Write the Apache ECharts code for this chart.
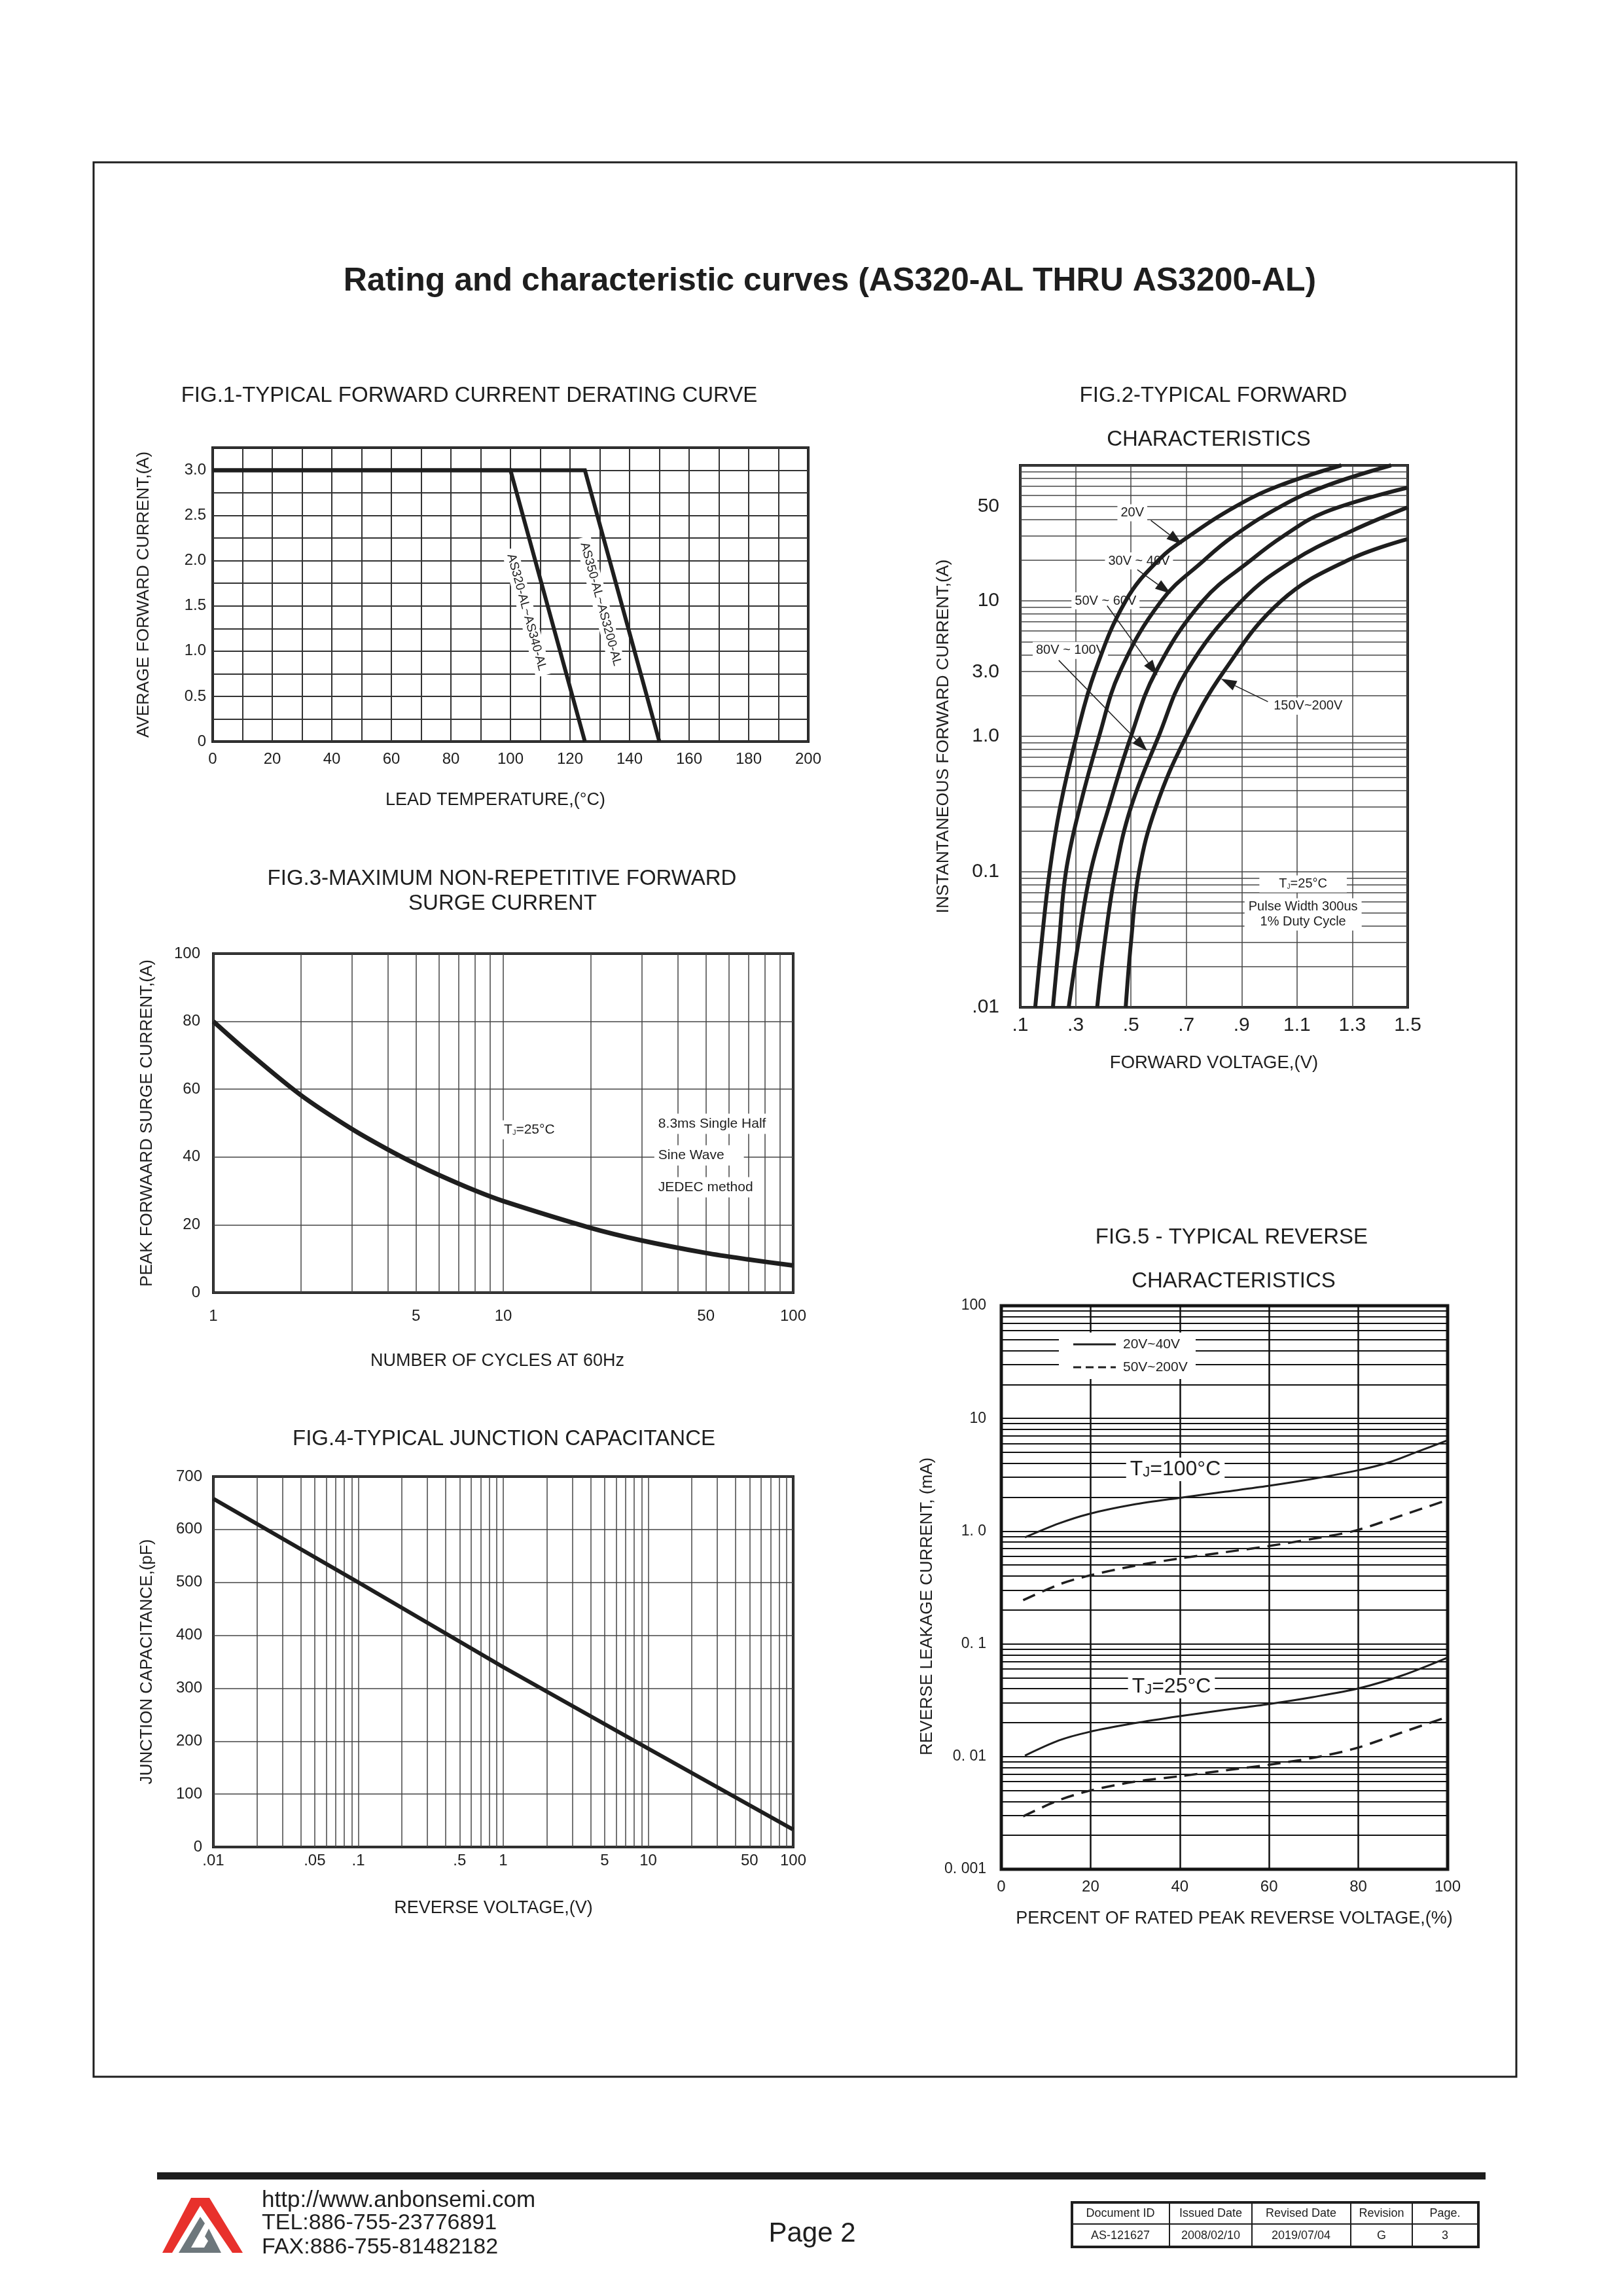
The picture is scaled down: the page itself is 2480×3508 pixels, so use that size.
<!DOCTYPE html>
<html>
<head>
<meta charset="utf-8">
<title>Rating and characteristic curves (AS320-AL THRU AS3200-AL)</title>
<script src="https://cdn.jsdelivr.net/npm/echarts@6.0.0/dist/echarts.min.js"></script>
<style>
html,body{margin:0;padding:0;background:#ffffff;}
#chart{width:2480px;height:3508px;}
</style>
</head>
<body>
<div id="chart"></div>
<script>
// ================= DATA =================
// FIG.1 - derating (lead temperature °C -> average forward current A)
const fig1TempLow  = [0, 100, 125];      // AS320-AL~AS340-AL
const fig1AmpLow   = [3.0, 3.0, 0];
const fig1TempHigh = [0, 125, 150];      // AS350-AL~AS3200-AL
const fig1AmpHigh  = [3.0, 3.0, 0];

// FIG.2 - forward characteristics (V -> A)
const fig2XLabels = [0.1, 0.3, 0.5, 0.7, 0.9, 1.1, 1.3, 1.5];
const fig2YLabels = [0.01, 0.1, 1, 3, 10, 50];
const fig2V_20V  = [0.154, 0.177, 0.206, 0.244, 0.303, 0.37, 0.481, 0.60, 0.71, 0.88, 1.03, 1.26];
const fig2I_20V  = [0.01, 0.03, 0.1, 0.3, 1, 3, 10, 20, 30, 50, 70, 100];
const fig2V_30V  = [0.218, 0.24, 0.265, 0.315, 0.385, 0.46, 0.61, 0.765, 0.87, 1.043, 1.20, 1.44];
const fig2I_30V  = [0.01, 0.03, 0.1, 0.3, 1, 3, 10, 20, 30, 50, 70, 100];
const fig2V_50V  = [0.275, 0.31, 0.354, 0.42, 0.50, 0.59, 0.76, 0.934, 1.05, 1.20, 1.5];
const fig2I_50V  = [0.01, 0.03, 0.1, 0.3, 1, 3, 10, 20, 30, 45, 68.5];
const fig2V_80V  = [0.378, 0.405, 0.444, 0.50, 0.60, 0.70, 0.90, 1.09, 1.30, 1.5];
const fig2I_80V  = [0.01, 0.03, 0.1, 0.3, 1, 3, 10, 20, 33, 49];
const fig2V_150V = [0.481, 0.50, 0.529, 0.59, 0.70, 0.835, 1.043, 1.285, 1.5];
const fig2I_150V = [0.01, 0.03, 0.1, 0.3, 1, 3, 10, 20, 28.6];

// FIG.3 - surge current (cycles -> A)
const fig3XLabels = [1, 5, 10, 50, 100];
const fig3Cycles = [1, 1.32, 2, 3, 4, 5, 6, 8, 10, 20, 30, 50, 70, 100];
const fig3Amps   = [80, 70.9, 58.3, 48.3, 42.2, 37.9, 34.7, 30.1, 27.0, 19.1, 15.4, 11.7, 9.8, 8.0];

// FIG.4 - junction capacitance (V -> pF)
const fig4XLabels = [0.01, 0.05, 0.1, 0.5, 1, 5, 10, 50, 100];
const fig4Volts = [0.01, 0.1, 1, 10, 100];
const fig4Cap   = [658, 500, 340, 186, 33];

// FIG.5 - reverse leakage (% of rated voltage -> mA)
const fig5YLabels = [0.001, 0.01, 0.1, 1, 10, 100];
const fig5Pct_100Solid = [5.3, 12.9, 19.6, 29.6, 39.8, 50.3, 59.8, 69.8, 80.1, 86.9, 93.2, 100];
const fig5mA_100Solid  = [0.88, 1.17, 1.42, 1.72, 1.97, 2.24, 2.52, 2.91, 3.48, 4.08, 5.06, 6.4];
const fig5Pct_100Dash  = [4.9, 12.9, 19.3, 29.6, 39.8, 50.3, 59.8, 69.8, 79.3, 90, 100];
const fig5mA_100Dash   = [0.244, 0.336, 0.40, 0.49, 0.571, 0.652, 0.737, 0.855, 1.01, 1.39, 1.89];
const fig5Pct_25Solid  = [5.3, 12.9, 19.6, 29.6, 39.8, 50.3, 59.8, 69.8, 80.1, 90, 100];
const fig5mA_25Solid   = [0.0102, 0.0139, 0.0165, 0.0197, 0.0228, 0.026, 0.0292, 0.0337, 0.0403, 0.0527, 0.0755];
const fig5Pct_25Dash   = [4.9, 12.9, 20, 29.6, 39.8, 50.3, 59.8, 69.8, 79.3, 90, 100];
const fig5mA_25Dash    = [0.00295, 0.0041, 0.0050, 0.00596, 0.00668, 0.00755, 0.00844, 0.00973, 0.0118, 0.0165, 0.0225];

// ================= HELPERS =================
const FONT = "'Liberation Sans', Arial, Helvetica, sans-serif";
const INK = '#1e1e1e';
const zip = (xs, ys) => xs.map((x, i) => [x, ys[i]]);
const clean = v => +Number(v).toPrecision(6);
function logGrid(e0, e1) {
  const out = [];
  for (let e = e0; e < e1; e++) for (let k = 1; k <= 9; k++) out.push(clean(k * Math.pow(10, e)));
  out.push(clean(Math.pow(10, e1)));
  return out;
}
const stripZero = v => String(clean(v)).replace(/^0\./, '.');
function lab(size, margin, extra) { return Object.assign({fontSize: size, fontFamily: FONT, color: INK, margin: margin}, extra || {}); }
function nst(size, pad) { return {fontSize: size, fontFamily: FONT, color: INK, padding: pad || 0}; }
function split(color, width) { return {show: true, lineStyle: {color: color, width: width}}; }
function gridBox(left, top, width, height, bw) {
  return {left: left, top: top, width: width, height: height, show: true, borderColor: INK, borderWidth: bw,
          backgroundColor: 'transparent', containLabel: false, outerBoundsMode: 'none'};
}
function curve(gi, data, width, extra) {
  return Object.assign({type: 'line', xAxisIndex: gi, yAxisIndex: gi, data: data, symbol: 'none',
    silent: true, z: 3, lineStyle: {color: INK, width: width, join: 'miter'}}, extra || {});
}

const fig2YMap = {0.01: '.01', 0.1: '0.1', 1: '1.0', 3: '3.0', 10: '10', 50: '50'};
const fig5YMap = {0.001: '0. 001', 0.01: '0. 01', 0.1: '0. 1', 1: '1. 0', 10: '10', 100: '100'};

// ================= OPTION =================
const option = {
  animation: false,
  backgroundColor: '#ffffff',
  textStyle: {fontFamily: FONT},
  grid: [
    gridBox(325, 684, 910, 449, 4),
    gridBox(1559, 711, 592, 828, 4),
    gridBox(326, 1457, 886, 518, 4),
    gridBox(326, 2256, 886, 566, 4),
    gridBox(1530, 1995, 682, 861, 5)
  ],
  xAxis: [
    {gridIndex: 0, type: 'value', min: 0, max: 200, interval: 10,
     axisLine: {show: false}, axisTick: {show: false},
     axisLabel: lab(24, 15, {formatter: v => (Math.round(v) % 20 === 0 ? String(Math.round(v)) : '')}),
     splitLine: split('#333', 2),
     name: 'LEAD TEMPERATURE,(°C)', nameLocation: 'middle', nameGap: 76, nameTextStyle: nst(27, [0, 46, 0, 0])},
    {gridIndex: 1, type: 'value', min: 0.1, max: 1.5,
     axisLine: {show: false}, axisTick: {show: false, customValues: fig2XLabels},
     axisLabel: lab(30, 13, {customValues: fig2XLabels, formatter: v => stripZero(v)}),
     splitLine: split('#444', 1.5),
     name: 'FORWARD VOLTAGE,(V)', nameLocation: 'middle', nameGap: 71, nameTextStyle: nst(27.5)},
    {gridIndex: 2, type: 'log', logBase: 10, min: 1, max: 100,
     axisLine: {show: false}, axisTick: {show: false, customValues: logGrid(0, 2)},
     axisLabel: lab(24, 24, {customValues: fig3XLabels, formatter: v => String(clean(v))}),
     splitLine: split('#444', 1.5),
     name: 'NUMBER OF CYCLES AT 60Hz', nameLocation: 'middle', nameGap: 91, nameTextStyle: nst(27, [0, 18, 0, 0])},
    {gridIndex: 3, type: 'log', logBase: 10, min: 0.01, max: 100,
     axisLine: {show: false}, axisTick: {show: false, customValues: logGrid(-2, 2)},
     axisLabel: lab(24, 9, {customValues: fig4XLabels, formatter: v => stripZero(v)}),
     splitLine: split('#444', 1.5),
     name: 'REVERSE VOLTAGE,(V)', nameLocation: 'middle', nameGap: 80, nameTextStyle: nst(27, [0, 30, 0, 0])},
    {gridIndex: 4, type: 'value', min: 0, max: 100, interval: 20,
     axisLine: {show: false}, axisTick: {show: false},
     axisLabel: lab(24, 15),
     splitLine: split('#111', 2.5),
     name: 'PERCENT OF RATED PEAK REVERSE VOLTAGE,(%)', nameLocation: 'middle', nameGap: 62, nameTextStyle: nst(27, [0, 0, 0, 30])}
  ],
  yAxis: [
    {gridIndex: 0, type: 'value', min: 0, max: 3.25, interval: 0.25,
     axisLine: {show: false}, axisTick: {show: false},
     axisLabel: lab(24, 10, {formatter: v => {
        const r = Math.round(v * 100) / 100;
        if (r === 0) return '0';
        if (Math.abs(r * 2 - Math.round(r * 2)) < 1e-6 && r <= 3) return r.toFixed(1);
        return '';
     }}),
     splitLine: split('#333', 2),
     name: 'AVERAGE FORWARD CURRENT,(A)', nameLocation: 'middle', nameGap: 92, nameTextStyle: nst(26)},
    {gridIndex: 1, type: 'log', logBase: 10, min: 0.01, max: 100,
     axisLine: {show: false}, axisTick: {show: false, customValues: logGrid(-2, 2)},
     axisLabel: lab(30, 32, {customValues: fig2YLabels, formatter: v => fig2YMap[clean(v)] || ''}),
     splitLine: split('#444', 1.5),
     name: 'INSTANTANEOUS FORWARD CURRENT,(A)', nameLocation: 'middle', nameGap: 104, nameTextStyle: nst(26.5)},
    {gridIndex: 2, type: 'value', min: 0, max: 100, interval: 20,
     axisLine: {show: false}, axisTick: {show: false},
     axisLabel: lab(24, 20),
     splitLine: split('#444', 1.5),
     name: 'PEAK FORWAARD SURGE CURRENT,(A)', nameLocation: 'middle', nameGap: 88, nameTextStyle: nst(26)},
    {gridIndex: 3, type: 'value', min: 0, max: 700, interval: 100,
     axisLine: {show: false}, axisTick: {show: false},
     axisLabel: lab(24, 17),
     splitLine: split('#444', 1.5),
     name: 'JUNCTION CAPACITANCE,(pF)', nameLocation: 'middle', nameGap: 88, nameTextStyle: nst(26)},
    {gridIndex: 4, type: 'log', logBase: 10, min: 0.001, max: 100,
     axisLine: {show: false}, axisTick: {show: false, customValues: logGrid(-3, 2)},
     axisLabel: lab(23, 23, {customValues: fig5YLabels, formatter: v => fig5YMap[clean(v)] || ''}),
     splitLine: split('#111', 2),
     name: 'REVERSE LEAKAGE CURRENT, (mA)', nameLocation: 'middle', nameGap: 100, nameTextStyle: nst(26, [0, 58, 0, 0])}
  ],
  series: [
    curve(0, zip(fig1TempLow, fig1AmpLow), 6, {name: 'AS320-AL~AS340-AL'}),
    curve(0, zip(fig1TempHigh, fig1AmpHigh), 6, {name: 'AS350-AL~AS3200-AL'}),
    curve(1, zip(fig2V_20V, fig2I_20V), 6, {name: '20V', smooth: 0.4}),
    curve(1, zip(fig2V_30V, fig2I_30V), 6, {name: '30V ~ 40V', smooth: 0.4}),
    curve(1, zip(fig2V_50V, fig2I_50V), 6, {name: '50V ~ 60V', smooth: 0.4}),
    curve(1, zip(fig2V_80V, fig2I_80V), 6, {name: '80V ~ 100V', smooth: 0.4}),
    curve(1, zip(fig2V_150V, fig2I_150V), 6, {name: '150V~200V', smooth: 0.4}),
    curve(2, zip(fig3Cycles, fig3Amps), 7, {name: 'Surge', smooth: 0.3}),
    curve(3, zip(fig4Volts, fig4Cap), 6, {name: 'Cj'}),
    curve(4, zip(fig5Pct_100Solid, fig5mA_100Solid), 3, {name: '20V~40V 100C', smooth: 0.3}),
    curve(4, zip(fig5Pct_100Dash, fig5mA_100Dash), 3.5, {name: '50V~200V 100C', smooth: 0.3,
      lineStyle: {color: INK, width: 3.5, type: [20, 12]}}),
    curve(4, zip(fig5Pct_25Solid, fig5mA_25Solid), 3, {name: '20V~40V 25C', smooth: 0.3}),
    curve(4, zip(fig5Pct_25Dash, fig5mA_25Dash), 3.5, {name: '50V~200V 25C', smooth: 0.3,
      lineStyle: {color: INK, width: 3.5, type: [20, 12]}})
  ]
};

const chart = echarts.init(document.getElementById('chart'), null, {renderer: 'canvas', width: 2480, height: 3508});
chart.setOption(option);

// ================= ANNOTATIONS =================
const P = (g, x, y) => chart.convertToPixel({gridIndex: g}, [x, y]);
function T(x, y, text, size, o) {
  o = o || {};
  const al = o.align || 'center';
  const st = {text: text, fontSize: size, fontFamily: FONT, fill: INK, fontWeight: o.bold ? 'bold' : 'normal',
    align: al, textAlign: al, verticalAlign: 'middle', textVerticalAlign: 'middle'};
  if (o.bg) { st.backgroundColor = '#ffffff'; st.padding = o.pad || [2, 6]; }
  if (o.rich) st.rich = o.rich;
  return {type: 'text', x: x, y: y, rotation: o.rotation || 0, z: o.z == null ? 5 : o.z, silent: true, style: st};
}
function arrow(g, from, to) {
  const a = P(g, from[0], from[1]), b = P(g, to[0], to[1]);
  const dx = b[0] - a[0], dy = b[1] - a[1], L = Math.hypot(dx, dy), ux = dx / L, uy = dy / L;
  const hl = 24, hw = 8;
  const bx = b[0] - ux * hl, by = b[1] - uy * hl;
  return [
    {type: 'line', z: 6, silent: true, shape: {x1: a[0], y1: a[1], x2: bx, y2: by}, style: {stroke: INK, lineWidth: 1.5}},
    {type: 'polygon', z: 6, silent: true, shape: {points: [[b[0], b[1]], [bx - uy * hw, by + ux * hw], [bx + uy * hw, by - ux * hw]]}, style: {fill: INK}}
  ];
}
const tjRich = (s, js) => ({t: {fontSize: s, fontFamily: FONT, fill: INK}, j: {fontSize: js, fontFamily: FONT, fill: INK, verticalAlign: 'bottom'}});

// annotation placement (data coordinates)
const fig2Notes = [
  {text: '20V',        at: [0.505, 44.7], from: [0.572, 39.2], to: [0.685, 26.1]},
  {text: '30V ~ 40V',  at: [0.529, 19.7], from: [0.523, 17.0], to: [0.644, 11.3]},
  {text: '50V ~ 60V',  at: [0.408, 10.0], from: [0.414, 9.2],  to: [0.596, 2.81]},
  {text: '80V ~ 100V', at: [0.281, 4.3],  from: [0.239, 3.64], to: [0.559, 0.78]},
  {text: '150V~200V',  at: [1.14, 1.67],  from: [0.995, 1.8],  to: [0.825, 2.66]}
];

const g = [];
// page frame and headings
g.push({type: 'rect', z: 0, silent: true, shape: {x: 143, y: 248, width: 2174, height: 2925}, style: {fill: 'none', stroke: INK, lineWidth: 3}});
g.push(T(1268, 430, 'Rating and characteristic curves (AS320-AL THRU AS3200-AL)', 50, {bold: true}));
g.push(T(717, 605, 'FIG.1-TYPICAL FORWARD CURRENT DERATING CURVE', 33));
g.push(T(1854, 605, 'FIG.2-TYPICAL FORWARD', 33));
g.push(T(1847, 672, 'CHARACTERISTICS', 33));
g.push(T(767, 1343, 'FIG.3-MAXIMUM NON-REPETITIVE FORWARD', 33));
g.push(T(768, 1381, 'SURGE CURRENT', 33));
g.push(T(770, 2199, 'FIG.4-TYPICAL JUNCTION CAPACITANCE', 33));
g.push(T(1882, 1891, 'FIG.5 - TYPICAL REVERSE', 33));
g.push(T(1885, 1958, 'CHARACTERISTICS', 33));

// FIG.1 rotated curve labels
let p = P(0, 105.4, 1.43);
g.push(T(p[0], p[1], 'AS320-AL~AS340-AL', 19, {bg: true, pad: [3, 8], rotation: -1.304, z: 1}));
p = P(0, 130.3, 1.52);
g.push(T(p[0], p[1], 'AS350-AL~AS3200-AL', 19, {bg: true, pad: [3, 8], rotation: -1.304, z: 1}));

// FIG.2 labels + arrows
fig2Notes.forEach(n => {
  const q = P(1, n.at[0], n.at[1]);
  g.push(T(q[0], q[1], n.text, 20, {bg: true, pad: [3, 5], z: 1}));
  arrow(1, n.from, n.to).forEach(e => g.push(e));
});
p = P(1, 1.122, 0.0815);
g.push(T(p[0], p[1], '{t|T}{j|J}{t|=25°C}', 20, {bg: true, pad: [3, 30], z: 1, rich: tjRich(20, 10)}));
p = P(1, 1.122, 0.0552);
g.push(T(p[0], p[1], 'Pulse Width 300us', 20, {bg: true, pad: [3, 6], z: 1}));
p = P(1, 1.122, 0.0426);
g.push(T(p[0], p[1], '1% Duty Cycle', 20, {bg: true, pad: [3, 24], z: 1}));

// FIG.3 notes
p = P(2, 12.3, 48);
g.push(T(p[0], p[1], '{t|T}{j|J}{t|=25°C}', 21, {bg: true, pad: [4, 6], z: 1, rich: tjRich(21, 11)}));
p = P(2, 33.2, 49.8);
g.push(T(p[0], p[1], '8.3ms Single Half', 21, {bg: true, pad: [5, 6], z: 1, align: 'left'}));
p = P(2, 33.2, 40.5);
g.push(T(p[0], p[1], 'Sine Wave', 21, {bg: true, pad: [5, 30, 5, 6], z: 1, align: 'left'}));
p = P(2, 33.2, 31.1);
g.push(T(p[0], p[1], 'JEDEC method', 21, {bg: true, pad: [5, 6], z: 1, align: 'left'}));

// FIG.5 legend and notes
g.push({type: 'rect', z: 1, silent: true, shape: {x: 1618, y: 2036, width: 209, height: 71}, style: {fill: '#ffffff'}});
g.push({type: 'line', z: 6, silent: true, shape: {x1: 1640, y1: 2054, x2: 1705, y2: 2054}, style: {stroke: INK, lineWidth: 3}});
g.push({type: 'line', z: 6, silent: true, shape: {x1: 1640, y1: 2089, x2: 1705, y2: 2089}, style: {stroke: INK, lineWidth: 3, lineDash: [12, 7]}});
g.push(T(1716, 2054, '20V~40V', 21, {align: 'left'}));
g.push(T(1716, 2089, '50V~200V', 21, {align: 'left'}));
g.push(T(1796, 2245, '{t|T}{j|J}{t|=100°C}', 32, {bg: true, pad: [2, 6], z: 1, rich: tjRich(32, 22)}));
g.push(T(1790, 2577, '{t|T}{j|J}{t|=25°C}', 32, {bg: true, pad: [2, 6], z: 1, rich: tjRich(32, 22)}));

// footer
g.push({type: 'rect', z: 5, silent: true, shape: {x: 240, y: 3319, width: 2030, height: 11}, style: {fill: INK}});
g.push({type: 'polygon', z: 5, silent: true, shape: {points: [[248, 3442], [292, 3358], [320, 3358], [371, 3442], [355, 3442], [306, 3370], [263, 3442]]}, style: {fill: '#e8312c'}});
g.push({type: 'polygon', z: 5, silent: true, shape: {points: [[273, 3442], [306, 3387], [313, 3397], [292, 3434], [312, 3434], [318, 3424], [313, 3417], [319, 3405], [338, 3442]]}, style: {fill: '#6d777c'}});
g.push(T(400, 3362, 'http://www.anbonsemi.com', 35, {align: 'left'}));
g.push(T(400, 3397, 'TEL:886-755-23776891', 34, {align: 'left'}));
g.push(T(400, 3434, 'FAX:886-755-81482182', 34, {align: 'left'}));
g.push(T(1241, 3413, 'Page 2', 42));
// document table
g.push({type: 'rect', z: 5, silent: true, shape: {x: 1638, y: 3365, width: 621, height: 68}, style: {fill: 'none', stroke: INK, lineWidth: 4}});
g.push({type: 'line', z: 5, silent: true, shape: {x1: 1638, y1: 3398, x2: 2259, y2: 3398}, style: {stroke: INK, lineWidth: 2}});
[1787, 1913, 2064, 2158].forEach(x => g.push({type: 'line', z: 5, silent: true, shape: {x1: x, y1: 3365, x2: x, y2: 3433}, style: {stroke: INK, lineWidth: 2}}));
const tblHead = ['Document ID', 'Issued Date', 'Revised Date', 'Revision', 'Page.'];
const tblVals = ['AS-121627', '2008/02/10', '2019/07/04', 'G', '3'];
const tblCx = [1712, 1850, 1988, 2111, 2208];
tblHead.forEach((t, i) => g.push(T(tblCx[i], 3382, t, 18)));
tblVals.forEach((t, i) => g.push(T(tblCx[i], 3416, t, 18)));

chart.setOption({graphic: {elements: g}});
</script>
</body>
</html>
